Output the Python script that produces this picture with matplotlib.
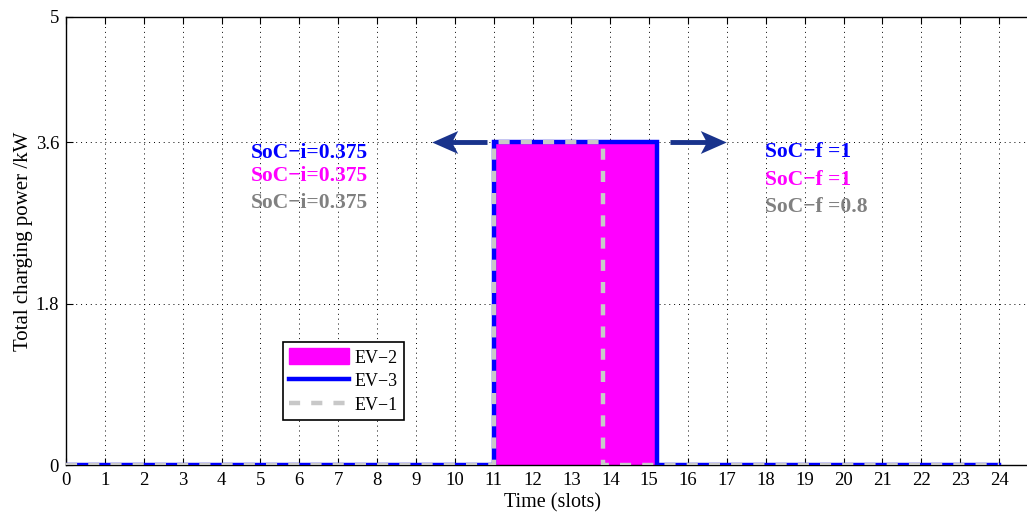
import matplotlib
matplotlib.use('Agg')
import matplotlib.pyplot as plt
from matplotlib.patches import Patch
from matplotlib.lines import Line2D
from matplotlib.path import Path

plt.rcParams['font.family'] = ['Liberation Serif', 'DejaVu Serif']

# step profiles (time in slots, power in kW)
ev3_t = [0, 11, 11, 15.2, 15.2, 24]
ev3_p = [0, 0, 3.6, 3.6, 0, 0]
ev2_t = [11, 15.2]
ev2_p = [3.6, 3.6]
ev1_t = [0, 11, 11, 13.8, 13.8, 24]
ev1_p = [0, 0, 3.6, 3.6, 0, 0]

x_ticks = list(range(0, 25))
y_ticks = [0, 1.8, 3.6, 5]

soc_i = ['SoC\u2212i=0.375', 'SoC\u2212i=0.375', 'SoC\u2212i=0.375']
soc_f = ['SoC\u2212f =1', 'SoC\u2212f =1', 'SoC\u2212f =0.8']
soc_colors = ['#0000ff', '#ff00ff', '#808080']
soc_i_y = [3.48, 3.23, 2.92]
soc_f_y = [3.49, 3.18, 2.88]

# window arrows (tail, tip) at 3.6 kW
arrow_left = (10.83, 9.41)
arrow_right = (15.54, 17.0)

fig = plt.figure(figsize=(10.27, 5.14), dpi=100, facecolor='white')
ax = fig.add_axes([66 / 1027, 49 / 514, 972 / 1027, 448 / 514])

ax.fill_between(ev2_t, 0, ev2_p, color='#ff00ff', lw=0, zorder=2)
ax.plot(ev3_t, ev3_p, color='#0000ff', lw=3.2, solid_joinstyle='miter', zorder=3)
ax.plot(ev1_t, ev1_p, color='#c8c8c8', lw=3.2, dashes=(2.5, 2.5), zorder=4)

# swept-back arrow heads
head_r = Path([(1, 0), (-0.7, 0.75), (-0.3, 0), (-0.7, -0.75), (1, 0)],
              [Path.MOVETO, Path.LINETO, Path.LINETO, Path.LINETO, Path.CLOSEPOLY])
head_l = Path([(-1, 0), (0.7, 0.75), (0.3, 0), (0.7, -0.75), (-1, 0)],
              [Path.MOVETO, Path.LINETO, Path.LINETO, Path.LINETO, Path.CLOSEPOLY])
arrow_col = '#19338c'
for (tail, tip), head in [(arrow_left, head_l), (arrow_right, head_r)]:
    shaft_end = tip + (0.35 if tip < tail else -0.35)
    ax.plot([tail, shaft_end], [3.6, 3.6], color=arrow_col, lw=3.5,
            solid_capstyle='butt', zorder=5)
    off = -0.25 if tip < tail else 0.25
    ax.plot([tip - off * 1.6], [3.6], marker=head, markersize=22, color=arrow_col,
            markeredgewidth=0, zorder=6)

for txt, y, c in zip(soc_i, soc_i_y, soc_colors):
    ax.text(4.75, y, txt, color=c, fontsize=15.5, fontweight='bold', va='center', ha='left')
for txt, y, c in zip(soc_f, soc_f_y, soc_colors):
    ax.text(17.98, y, txt, color=c, fontsize=15.5, fontweight='bold', va='center', ha='left')

ax.set_xlim(0, 25)
ax.set_ylim(0, 5)
ax.set_xticks(x_ticks)
ax.set_yticks(y_ticks)
ax.set_yticklabels(['0', '1.8', '3.6', '5'])
ax.tick_params(direction='in', length=5, width=0.8, top=True, right=True,
               labelsize=13.5, pad=5)
ax.grid(True, color='black', linestyle=(0, (1, 4)), lw=0.7)
ax.set_axisbelow(True)
for s in ax.spines.values():
    s.set_linewidth(1.0)

ax.set_xlabel('Time (slots)', fontsize=14.5, labelpad=3)
ax.set_ylabel('Total charging power /kW', fontsize=15, labelpad=2)

handles = [Patch(facecolor='#ff00ff', edgecolor='#ff00ff'),
           Line2D([], [], color='#0000ff', lw=3.2),
           Line2D([], [], color='#c8c8c8', lw=3.2, dashes=(2.5, 2.5))]
leg = ax.legend(handles, ['EV\u22122', 'EV\u22123', 'EV\u22121'], loc='lower left',
                bbox_to_anchor=(0.2233, 0.1), fontsize=13, fancybox=False,
                edgecolor='black', framealpha=1, handlelength=3.3, handleheight=1.0,
                handletextpad=0.3, borderpad=0.35, labelspacing=0.3,
                borderaxespad=0)
leg.get_frame().set_linewidth(1.2)

fig.savefig('out.png', dpi=100)
